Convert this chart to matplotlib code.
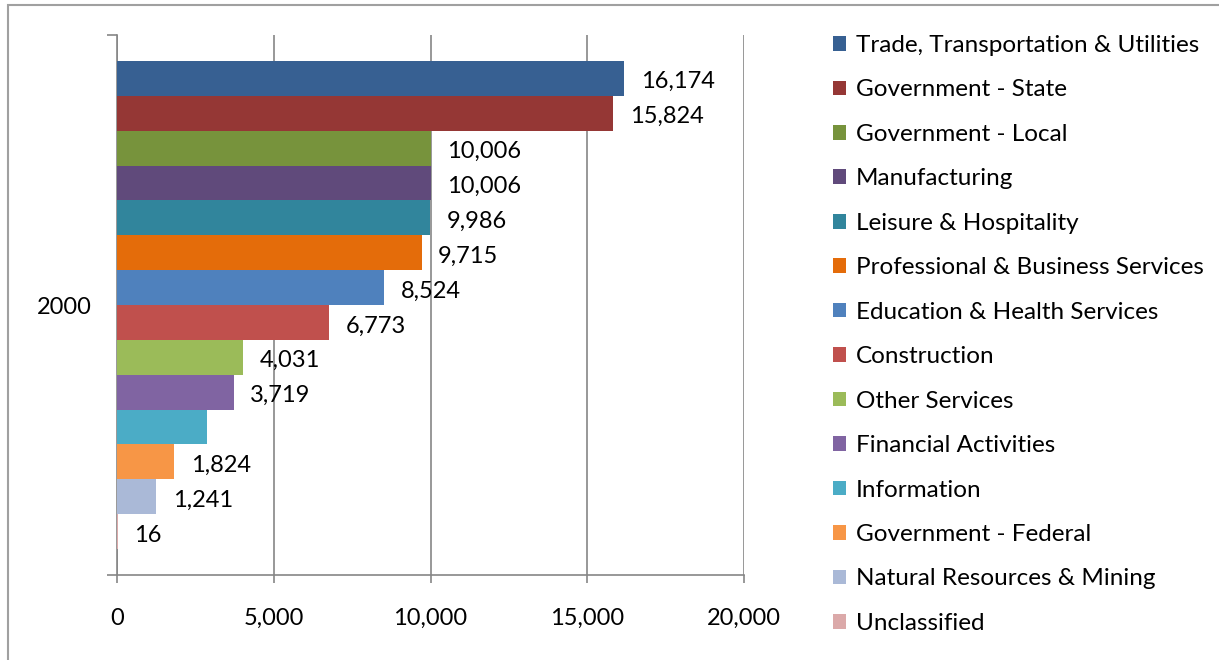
import matplotlib
matplotlib.use("Agg")
import matplotlib.pyplot as plt
from matplotlib.patches import Rectangle, Patch
import numpy as np

plt.rcParams["font.family"] = ["Lato", "DejaVu Sans"]

# --- data (top to bottom as drawn) ---
category = "2000"
series = [
    "Trade, Transportation & Utilities",
    "Government - State",
    "Government - Local",
    "Manufacturing",
    "Leisure & Hospitality",
    "Professional & Business Services",
    "Education & Health Services",
    "Construction",
    "Other Services",
    "Financial Activities",
    "Information",
    "Government - Federal",
    "Natural Resources & Mining",
    "Unclassified",
]
values = [16174, 15824, 10006, 10006, 9986, 9715, 8524, 6773, 4031, 3719, 2870, 1824, 1241, 16]
show_label = [True] * 10 + [False] + [True] * 3
colors = [
    "#376092", "#953735", "#77933C", "#604A7B", "#31859C", "#E46C0A", "#4F81BD",
    "#C0504D", "#9BBB59", "#8064A2", "#4BACC6", "#F79646", "#AAB9D7", "#DBA9A9",
]
x_ticks = [0, 5000, 10000, 15000, 20000]

W, H = 1219, 660
GRID = "#868686"
TXT = "#000000"
FS = 17

fig = plt.figure(figsize=(W / 100, H / 100), dpi=100)
ax = fig.add_axes([117 / W, 1 - 575 / H, (744 - 117) / W, (575 - 35) / H])

# bars fill ~90% of the single category slot
n = len(values)
group = 0.904
bh = group / n
pos = [group / 2 - bh * (i + 0.5) for i in range(n)]

for y, v, c, lab, show in zip(pos, values, colors, series, show_label):
    ax.barh(y, v, height=bh, color=c, label=lab, zorder=3)
    if show:
        ax.annotate(f"{v:,}", (v, y), xytext=(12, -2.5), textcoords="offset points",
                    va="center", ha="left", fontsize=FS, color=TXT, zorder=4)

ax.set_xlim(0, 20000)
ax.set_ylim(-0.5, 0.5)
ax.set_xticks(x_ticks)
ax.set_xticklabels([f"{t:,}" for t in x_ticks])
ax.tick_params(axis="x", length=6, width=1.2, color=GRID, pad=18, labelsize=FS, labelcolor=TXT)
ax.xaxis.grid(True, color=GRID, lw=1.2, zorder=0)

ax.set_yticks([-0.5, 0.5])
ax.set_yticklabels([])
ax.set_yticks([0], minor=True)
ax.set_yticklabels([category], minor=True)
ax.tick_params(axis="y", which="major", length=7, width=1.2, color=GRID)
ax.tick_params(axis="y", which="minor", length=0, pad=18, labelsize=FS, labelcolor=TXT)

for s in ["top", "right"]:
    ax.spines[s].set_visible(False)
for s in ["left", "bottom"]:
    ax.spines[s].set_color(GRID)
    ax.spines[s].set_linewidth(1.2)

handles = [Patch(facecolor=c, edgecolor="none") for c in colors]
fig.legend(handles, series, loc="upper left", bbox_to_anchor=(833 / W, 1 - 35 / H),
           frameon=False, fontsize=17.5, handlelength=0.55, handleheight=0.55,
           handletextpad=0.4, labelspacing=0.965, borderaxespad=0, borderpad=0)

# outer chart frame (cropped on the right and bottom)
fig.add_artist(Rectangle((8 / W, -0.1), 2, 1 - 5 / H + 0.1, transform=fig.transFigure,
                         fill=False, ec="#A0A0A0", lw=1.5))

fig.savefig("out.png", dpi=100)
